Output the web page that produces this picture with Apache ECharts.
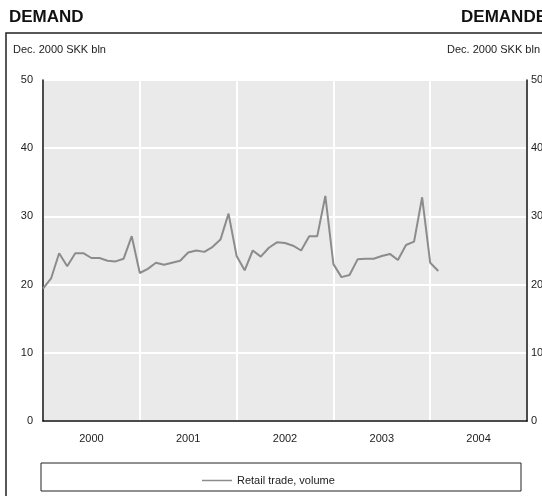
<!DOCTYPE html>
<html>
<head>
<meta charset="utf-8">
<script src="https://cdn.jsdelivr.net/npm/echarts@6/dist/echarts.min.js"></script>
<style>
  html, body { margin: 0; padding: 0; background: #fff; }
  #chart { width: 542px; height: 496px; }
</style>
</head>
<body>
<div id="chart"></div>
<script>
// monthly retail trade volume, Dec. 2000 SKK bln, Jan 2000 .. Feb 2004
var startYear = 2000;
var years = ['2000', '2001', '2002', '2003', '2004'];
var retail2000 = [19.4, 20.9, 24.6, 22.7, 24.6, 24.6, 23.9, 23.9, 23.5, 23.4, 23.8, 27.1];
var retail2001 = [21.7, 22.3, 23.2, 22.9, 23.2, 23.5, 24.7, 25.0, 24.8, 25.5, 26.6, 30.4];
var retail2002 = [24.2, 22.1, 25.0, 24.1, 25.4, 26.2, 26.1, 25.7, 25.0, 27.1, 27.1, 33.0];
var retail2003 = [23.0, 21.1, 21.4, 23.7, 23.8, 23.8, 24.2, 24.5, 23.6, 25.8, 26.3, 32.8];
var retail2004 = [23.2, 22.0];

var retail = retail2000.concat(retail2001, retail2002, retail2003, retail2004);
var lineData = [];
retail.forEach(function(v, i) {
  lineData.push([startYear + i / 12, v]);
});

var myChart = echarts.init(document.getElementById('chart'));
var font = 'Liberation Sans, Arial, sans-serif';

myChart.setOption({
  animation: false,
  textStyle: { fontFamily: font },
  graphic: [
    { type: 'text', left: 9, top: 9, style: { text: 'DEMAND', font: 'bold 17px ' + font, fill: '#111' } },
    { type: 'text', right: -5, top: 9, style: { text: 'DEMANDE', font: 'bold 17px ' + font, fill: '#111' } },
    { type: 'rect', shape: { x: 6, y: 33, width: 600, height: 500 }, style: { fill: 'none', stroke: '#222', lineWidth: 1.5 }, z: -1 },
    { type: 'text', left: 13, top: 44, style: { text: 'Dec. 2000 SKK bln', font: '11px ' + font, fill: '#222' } },
    { type: 'text', right: 2, top: 44, style: { text: 'Dec. 2000 SKK bln', font: '11px ' + font, fill: '#222' } },
    { type: 'rect', shape: { x: 41, y: 463, width: 480, height: 28 }, style: { fill: '#fff', stroke: '#222', lineWidth: 1 } }
  ],
  legend: {
    left: 197,
    top: 470,
    icon: 'rect',
    itemWidth: 30,
    itemHeight: 1.5,
    itemGap: 8,
    textStyle: { fontSize: 11, color: '#222', fontFamily: font },
    data: ['Retail trade, volume']
  },
  grid: {
    left: 43,
    right: 15,
    top: 80,
    bottom: 75,
    outerBoundsMode: 'none',
    containLabel: false,
    show: true,
    backgroundColor: '#e9eae9',
    borderColor: '#999',
    borderWidth: 1
  },
  xAxis: [
    {
      type: 'value',
      min: 2000,
      max: 2005,
      interval: 1,
      axisLine: { show: true, lineStyle: { color: '#111', width: 1.5 } },
      axisTick: { show: false },
      axisLabel: { show: false },
      splitLine: { show: true, lineStyle: { color: '#fff', width: 2 } }
    },
    {
      type: 'category',
      position: 'bottom',
      data: years,
      boundaryGap: true,
      axisLine: { show: false },
      axisTick: { show: false },
      axisLabel: { color: '#222', fontSize: 11, margin: 12 },
      splitLine: { show: false }
    }
  ],
  yAxis: [
    {
      type: 'value',
      min: 0,
      max: 50,
      interval: 10,
      position: 'left',
      axisLine: { show: true, lineStyle: { color: '#111', width: 1.5 } },
      axisTick: { show: false },
      axisLabel: { color: '#222', fontSize: 11, margin: 10 },
      splitLine: { show: true, lineStyle: { color: '#fff', width: 2 } }
    },
    {
      type: 'value',
      min: 0,
      max: 50,
      interval: 10,
      position: 'right',
      axisLine: { show: true, lineStyle: { color: '#111', width: 1.5 } },
      axisTick: { show: false },
      axisLabel: { color: '#222', fontSize: 11, margin: 4 },
      splitLine: { show: false }
    }
  ],
  series: [
    {
      name: 'Retail trade, volume',
      type: 'line',
      xAxisIndex: 0,
      yAxisIndex: 0,
      data: lineData,
      showSymbol: false,
      symbol: 'none',
      itemStyle: { color: '#8c8c8c' },
      lineStyle: { color: '#8c8c8c', width: 2 }
    }
  ]
});
</script>
</body>
</html>
